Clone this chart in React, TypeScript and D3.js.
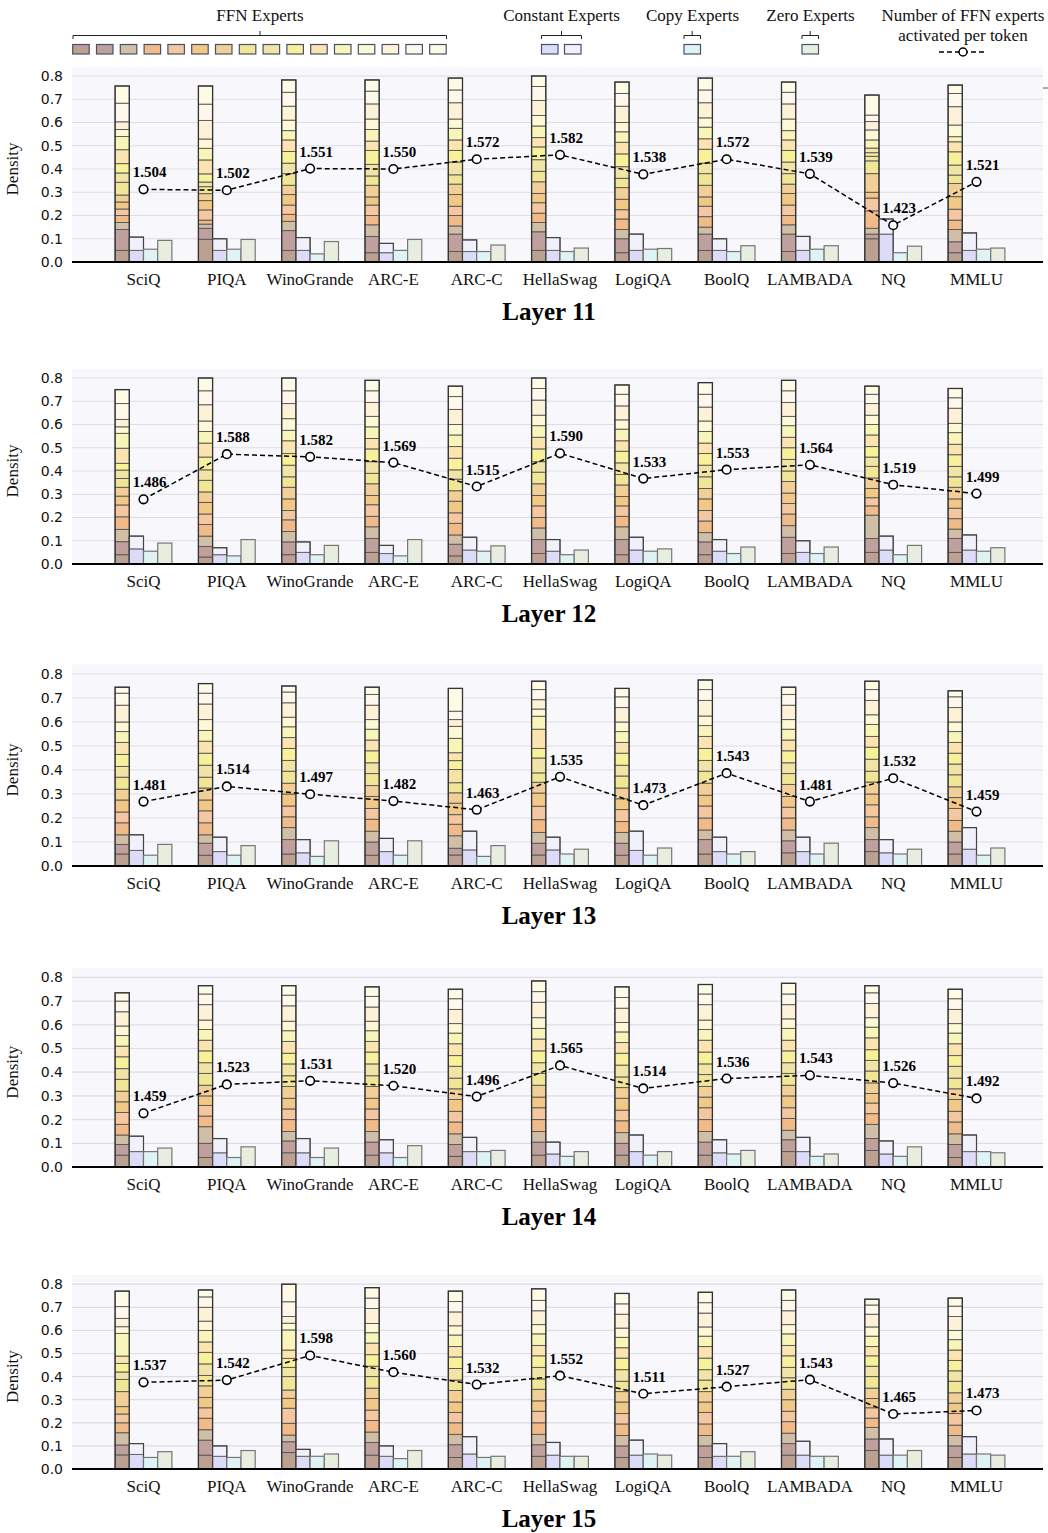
import * as d3 from "d3";

const datasets = ["SciQ", "PIQA", "WinoGrande", "ARC-E", "ARC-C", "HellaSwag", "LogiQA", "BoolQ", "LAMBADA", "NQ", "MMLU"];

// bottom -> top, same order as the legend swatches
const ffnColors = [
  "#bca193", "#c0a09d", "#d1bea6", "#f0bb88", "#f4c7a0", "#f2c886", "#f3cf98", "#f0e696",
  "#f2e4a6", "#f7f29a", "#fbe4b0", "#f9f5b8", "#fdf9d6", "#fdf1d8", "#fef8ec", "#fdfbe6",
];
const constColors = ["#dcdcf8", "#f1f1fc"];
const copyColor = "#dff3f5";
const zeroColor = "#e7eee0";

// ---- Layer 11 ----
const ffnL11 = [
  [0.05, 0.09, 0.03, 0.03, 0.028, 0.03, 0.03, 0.055, 0.04, 0.04, 0.06, 0.057, 0.03, 0.033, 0.08, 0.074],
  [0.098, 0.047, 0.018, 0.017, 0.044, 0.04, 0.03, 0.03, 0.02, 0.035, 0.06, 0.05, 0.04, 0.08, 0.07, 0.078],
  [0.05, 0.085, 0.04, 0.03, 0.04, 0.045, 0.04, 0.05, 0.045, 0.05, 0.05, 0.04, 0.045, 0.06, 0.06, 0.053],
  [0.04, 0.07, 0.05, 0.04, 0.045, 0.035, 0.05, 0.04, 0.05, 0.06, 0.04, 0.05, 0.045, 0.065, 0.055, 0.048],
  [0.045, 0.075, 0.035, 0.045, 0.04, 0.05, 0.045, 0.04, 0.055, 0.05, 0.045, 0.05, 0.04, 0.07, 0.055, 0.051],
  [0.05, 0.08, 0.04, 0.04, 0.045, 0.04, 0.05, 0.045, 0.05, 0.055, 0.04, 0.05, 0.045, 0.065, 0.06, 0.045],
  [0.04, 0.06, 0.04, 0.045, 0.04, 0.045, 0.05, 0.04, 0.05, 0.055, 0.05, 0.045, 0.04, 0.07, 0.055, 0.049],
  [0.05, 0.07, 0.03, 0.045, 0.045, 0.04, 0.05, 0.05, 0.045, 0.06, 0.045, 0.05, 0.04, 0.065, 0.055, 0.051],
  [0.045, 0.075, 0.04, 0.04, 0.045, 0.05, 0.04, 0.045, 0.05, 0.05, 0.045, 0.04, 0.05, 0.065, 0.05, 0.044],
  [0.1, 0.02, 0.025, 0.075, 0.055, 0.025, 0.08, 0.055, 0.02, 0.015, 0.02, 0.035, 0.043, 0.036, 0.028, 0.086],
  [0.04, 0.047, 0.053, 0.04, 0.047, 0.054, 0.057, 0.036, 0.043, 0.057, 0.043, 0.022, 0.05, 0.079, 0.057, 0.036],
];
const constLowL11 = [0.05, 0.05, 0.05, 0.04, 0.045, 0.05, 0.05, 0.05, 0.05, 0.12, 0.05];
const constHighL11 = [0.057, 0.05, 0.055, 0.04, 0.05, 0.055, 0.07, 0.05, 0.06, 0.065, 0.075];
const copyL11 = [0.055, 0.055, 0.035, 0.05, 0.045, 0.045, 0.055, 0.045, 0.055, 0.04, 0.055];
const zeroL11 = [0.093, 0.097, 0.088, 0.097, 0.073, 0.06, 0.058, 0.07, 0.07, 0.068, 0.06];
const countL11 = [1.504, 1.502, 1.551, 1.55, 1.572, 1.582, 1.538, 1.572, 1.539, 1.423, 1.521];

// ---- Layer 12 ----
const ffnL12 = [
  [0.04, 0.056, 0.053, 0.054, 0.051, 0.038, 0.038, 0.038, 0.036, 0.029, 0.065, 0.064, 0.028, 0.032, 0.068, 0.06],
  [0.03, 0.045, 0.045, 0.05, 0.045, 0.05, 0.045, 0.05, 0.045, 0.055, 0.06, 0.05, 0.045, 0.07, 0.06, 0.055],
  [0.04, 0.055, 0.045, 0.05, 0.04, 0.05, 0.05, 0.045, 0.05, 0.05, 0.055, 0.045, 0.05, 0.065, 0.055, 0.055],
  [0.05, 0.06, 0.05, 0.045, 0.05, 0.04, 0.05, 0.045, 0.05, 0.055, 0.045, 0.05, 0.045, 0.06, 0.05, 0.045],
  [0.035, 0.05, 0.04, 0.05, 0.045, 0.05, 0.045, 0.05, 0.04, 0.05, 0.05, 0.05, 0.045, 0.065, 0.055, 0.045],
  [0.045, 0.06, 0.05, 0.045, 0.05, 0.045, 0.05, 0.05, 0.045, 0.055, 0.05, 0.05, 0.045, 0.065, 0.05, 0.045],
  [0.04, 0.065, 0.055, 0.045, 0.045, 0.04, 0.05, 0.045, 0.05, 0.05, 0.045, 0.05, 0.04, 0.06, 0.05, 0.04],
  [0.04, 0.055, 0.04, 0.05, 0.045, 0.05, 0.045, 0.05, 0.05, 0.05, 0.045, 0.05, 0.045, 0.06, 0.055, 0.05],
  [0.045, 0.07, 0.05, 0.05, 0.045, 0.045, 0.05, 0.045, 0.05, 0.05, 0.045, 0.05, 0.04, 0.06, 0.05, 0.045],
  [0.05, 0.06, 0.1, 0.04, 0.035, 0.04, 0.045, 0.05, 0.04, 0.045, 0.05, 0.045, 0.04, 0.05, 0.04, 0.035],
  [0.05, 0.06, 0.04, 0.045, 0.045, 0.04, 0.05, 0.045, 0.045, 0.05, 0.045, 0.05, 0.04, 0.065, 0.045, 0.04],
];
const constLowL12 = [0.065, 0.04, 0.05, 0.045, 0.06, 0.055, 0.06, 0.055, 0.05, 0.06, 0.06];
const constHighL12 = [0.055, 0.03, 0.045, 0.035, 0.055, 0.05, 0.055, 0.05, 0.05, 0.06, 0.065];
const copyL12 = [0.055, 0.035, 0.04, 0.035, 0.055, 0.04, 0.055, 0.045, 0.045, 0.04, 0.055];
const zeroL12 = [0.09, 0.105, 0.08, 0.105, 0.078, 0.06, 0.065, 0.073, 0.073, 0.08, 0.07];
const countL12 = [1.486, 1.588, 1.582, 1.569, 1.515, 1.59, 1.533, 1.553, 1.564, 1.519, 1.499];

// ---- Layer 13 ----
const ffnL13 = [
  [0.05, 0.04, 0.04, 0.05, 0.045, 0.05, 0.045, 0.05, 0.045, 0.05, 0.05, 0.045, 0.04, 0.07, 0.05, 0.025],
  [0.045, 0.05, 0.035, 0.05, 0.05, 0.045, 0.05, 0.045, 0.05, 0.05, 0.05, 0.045, 0.045, 0.065, 0.045, 0.04],
  [0.05, 0.06, 0.05, 0.045, 0.045, 0.05, 0.045, 0.05, 0.045, 0.05, 0.045, 0.045, 0.04, 0.06, 0.045, 0.025],
  [0.045, 0.055, 0.045, 0.05, 0.045, 0.05, 0.045, 0.05, 0.045, 0.05, 0.045, 0.045, 0.04, 0.06, 0.045, 0.03],
  [0.046, 0.028, 0.052, 0.048, 0.04, 0.048, 0.043, 0.042, 0.055, 0.037, 0.033, 0.06, 0.05, 0.028, 0.035, 0.095],
  [0.046, 0.049, 0.045, 0.053, 0.056, 0.055, 0.045, 0.039, 0.062, 0.04, 0.08, 0.054, 0.03, 0.039, 0.042, 0.035],
  [0.045, 0.05, 0.045, 0.045, 0.05, 0.045, 0.045, 0.05, 0.045, 0.05, 0.045, 0.045, 0.04, 0.06, 0.045, 0.035],
  [0.05, 0.06, 0.04, 0.05, 0.05, 0.045, 0.05, 0.05, 0.045, 0.05, 0.05, 0.045, 0.04, 0.065, 0.045, 0.04],
  [0.055, 0.05, 0.045, 0.05, 0.045, 0.045, 0.05, 0.045, 0.045, 0.05, 0.045, 0.045, 0.04, 0.06, 0.045, 0.03],
  [0.06, 0.05, 0.05, 0.045, 0.05, 0.045, 0.05, 0.045, 0.05, 0.05, 0.045, 0.05, 0.04, 0.06, 0.045, 0.035],
  [0.05, 0.05, 0.045, 0.045, 0.05, 0.045, 0.045, 0.05, 0.045, 0.045, 0.045, 0.045, 0.04, 0.06, 0.045, 0.025],
];
const constLowL13 = [0.065, 0.06, 0.055, 0.06, 0.067, 0.067, 0.065, 0.06, 0.06, 0.055, 0.07];
const constHighL13 = [0.065, 0.06, 0.055, 0.055, 0.078, 0.053, 0.08, 0.06, 0.06, 0.055, 0.09];
const copyL13 = [0.045, 0.045, 0.04, 0.045, 0.04, 0.05, 0.045, 0.05, 0.05, 0.05, 0.045];
const zeroL13 = [0.09, 0.085, 0.105, 0.105, 0.085, 0.07, 0.075, 0.06, 0.095, 0.07, 0.075];
const countL13 = [1.481, 1.514, 1.497, 1.482, 1.463, 1.535, 1.473, 1.543, 1.481, 1.532, 1.459];

// ---- Layer 14 ----
const ffnL14 = [
  [0.05, 0.045, 0.04, 0.045, 0.05, 0.045, 0.045, 0.05, 0.045, 0.05, 0.045, 0.045, 0.04, 0.06, 0.045, 0.035],
  [0.04, 0.06, 0.07, 0.045, 0.045, 0.04, 0.045, 0.05, 0.045, 0.05, 0.045, 0.045, 0.04, 0.065, 0.045, 0.035],
  [0.06, 0.05, 0.04, 0.05, 0.045, 0.045, 0.05, 0.045, 0.05, 0.045, 0.05, 0.045, 0.04, 0.065, 0.045, 0.04],
  [0.05, 0.055, 0.045, 0.05, 0.045, 0.045, 0.05, 0.045, 0.05, 0.05, 0.045, 0.045, 0.04, 0.06, 0.045, 0.04],
  [0.045, 0.05, 0.045, 0.05, 0.045, 0.05, 0.045, 0.045, 0.05, 0.045, 0.05, 0.045, 0.04, 0.06, 0.045, 0.04],
  [0.05, 0.055, 0.045, 0.05, 0.05, 0.045, 0.05, 0.05, 0.045, 0.05, 0.05, 0.045, 0.045, 0.065, 0.045, 0.045],
  [0.05, 0.05, 0.045, 0.05, 0.045, 0.05, 0.045, 0.045, 0.05, 0.05, 0.045, 0.045, 0.04, 0.06, 0.045, 0.045],
  [0.05, 0.055, 0.045, 0.05, 0.05, 0.045, 0.045, 0.05, 0.045, 0.05, 0.05, 0.045, 0.04, 0.065, 0.045, 0.04],
  [0.065, 0.05, 0.04, 0.05, 0.045, 0.05, 0.045, 0.05, 0.045, 0.05, 0.045, 0.05, 0.04, 0.06, 0.045, 0.045],
  [0.07, 0.05, 0.06, 0.045, 0.045, 0.04, 0.045, 0.05, 0.045, 0.045, 0.05, 0.045, 0.04, 0.06, 0.045, 0.03],
  [0.04, 0.055, 0.045, 0.05, 0.045, 0.05, 0.045, 0.045, 0.05, 0.045, 0.05, 0.045, 0.04, 0.06, 0.045, 0.04],
];
const constLowL14 = [0.065, 0.06, 0.06, 0.06, 0.065, 0.055, 0.065, 0.06, 0.065, 0.055, 0.065];
const constHighL14 = [0.065, 0.06, 0.06, 0.055, 0.06, 0.05, 0.07, 0.055, 0.06, 0.055, 0.07];
const copyL14 = [0.065, 0.04, 0.04, 0.04, 0.065, 0.045, 0.05, 0.055, 0.045, 0.045, 0.065];
const zeroL14 = [0.08, 0.085, 0.08, 0.09, 0.07, 0.065, 0.065, 0.07, 0.055, 0.085, 0.06];
const countL14 = [1.459, 1.523, 1.531, 1.52, 1.496, 1.565, 1.514, 1.536, 1.543, 1.526, 1.492];

// ---- Layer 15 ----
const ffnL15 = [
  [0.061, 0.043, 0.053, 0.043, 0.038, 0.032, 0.065, 0.053, 0.032, 0.037, 0.032, 0.098, 0.029, 0.036, 0.051, 0.067],
  [0.06, 0.065, 0.045, 0.05, 0.045, 0.045, 0.05, 0.045, 0.05, 0.05, 0.045, 0.05, 0.04, 0.06, 0.045, 0.03],
  [0.071, 0.047, 0.029, 0.051, 0.065, 0.043, 0.036, 0.058, 0.04, 0.039, 0.036, 0.087, 0.029, 0.029, 0.064, 0.076],
  [0.06, 0.055, 0.045, 0.05, 0.045, 0.05, 0.045, 0.05, 0.045, 0.05, 0.05, 0.045, 0.04, 0.065, 0.045, 0.045],
  [0.05, 0.055, 0.045, 0.05, 0.045, 0.045, 0.05, 0.045, 0.05, 0.05, 0.045, 0.05, 0.04, 0.06, 0.045, 0.045],
  [0.055, 0.05, 0.045, 0.05, 0.05, 0.045, 0.05, 0.045, 0.05, 0.05, 0.045, 0.05, 0.04, 0.06, 0.045, 0.05],
  [0.05, 0.05, 0.045, 0.05, 0.045, 0.05, 0.045, 0.045, 0.05, 0.05, 0.045, 0.045, 0.04, 0.06, 0.045, 0.045],
  [0.05, 0.05, 0.045, 0.05, 0.05, 0.045, 0.045, 0.05, 0.045, 0.05, 0.05, 0.045, 0.04, 0.06, 0.045, 0.045],
  [0.06, 0.05, 0.045, 0.05, 0.045, 0.05, 0.045, 0.05, 0.045, 0.05, 0.045, 0.05, 0.04, 0.06, 0.045, 0.045],
  [0.08, 0.05, 0.05, 0.04, 0.045, 0.04, 0.045, 0.05, 0.045, 0.045, 0.04, 0.045, 0.04, 0.055, 0.04, 0.025],
  [0.05, 0.05, 0.045, 0.045, 0.05, 0.045, 0.045, 0.05, 0.045, 0.045, 0.045, 0.045, 0.04, 0.06, 0.045, 0.035],
];
const constLowL15 = [0.063, 0.055, 0.055, 0.055, 0.065, 0.06, 0.06, 0.055, 0.06, 0.06, 0.065];
const constHighL15 = [0.047, 0.045, 0.03, 0.045, 0.075, 0.055, 0.065, 0.055, 0.06, 0.07, 0.075];
const copyL15 = [0.05, 0.05, 0.055, 0.045, 0.05, 0.055, 0.065, 0.055, 0.055, 0.06, 0.065];
const zeroL15 = [0.075, 0.08, 0.065, 0.08, 0.055, 0.055, 0.06, 0.075, 0.055, 0.08, 0.06];
const countL15 = [1.537, 1.542, 1.598, 1.56, 1.532, 1.552, 1.511, 1.527, 1.543, 1.465, 1.473];

const layers = [
  { name: "Layer 11", ffn: ffnL11, constLow: constLowL11, constHigh: constHighL11, copy: copyL11, zero: zeroL11, count: countL11 },
  { name: "Layer 12", ffn: ffnL12, constLow: constLowL12, constHigh: constHighL12, copy: copyL12, zero: zeroL12, count: countL12 },
  { name: "Layer 13", ffn: ffnL13, constLow: constLowL13, constHigh: constHighL13, copy: copyL13, zero: zeroL13, count: countL13 },
  { name: "Layer 14", ffn: ffnL14, constLow: constLowL14, constHigh: constHighL14, copy: copyL14, zero: zeroL14, count: countL14 },
  { name: "Layer 15", ffn: ffnL15, constLow: constLowL15, constHigh: constHighL15, copy: copyL15, zero: zeroL15, count: countL15 },
];

// where each panel's x-axis sits, and pixels per density unit
const panelBase = [262, 564, 866, 1167, 1469];
const panelUnit = [232.5, 232.5, 240, 237, 231];

const serif = "'Liberation Serif', 'Times New Roman', Times, serif";
const sans = "'DejaVu Sans', Verdana, sans-serif";

const left = 72;
const right = 1043;
const bw = 14.2;

const x = d3.scalePoint<string>().domain(datasets).range([143.5, 976.5]);
// secondary scale: activated FFN experts -> density axis
const countScale = d3.scaleLinear().domain([1.34, 1.76]).range([0, 0.8]);

function Panel({ layer, base, unit, idx }: any) {
  const yMax = 0.84;
  const y = d3.scaleLinear().domain([0, yMax]).range([base, base - yMax * unit]);
  const ticks = y.ticks(8);
  const line = d3
    .line<number>()
    .x((_, i) => x(datasets[i])!)
    .y((d) => y(countScale(d)));

  const rectFor = (x0: number, lo: number, hi: number) => ({
    x: x0,
    y: y(hi),
    width: bw,
    height: y(lo) - y(hi),
  });

  return (
    <g>
      <rect x={left} y={y(yMax)} width={right - left} height={base - y(yMax)} fill="#f8f8fc" />
      {ticks.map((t) => (
        <g key={t}>
          {t > 0 && <line x1={left} x2={right} y1={y(t)} y2={y(t)} stroke="#dedee2" strokeWidth={1.2} />}
          <text x={63} y={y(t)} dy="0.35em" textAnchor="end" fontFamily={sans} fontSize={14} fill="#111">
            {d3.format(".1f")(t)}
          </text>
        </g>
      ))}
      {idx === 0 && <line x1={1043} x2={1048} y1={88} y2={88} stroke="#555" strokeWidth={1} />}

      {datasets.map((ds, i) => {
        const c = x(ds)!;
        const row: number[] = layer.ffn[i];
        const cum = Array.from(d3.cumsum(row));
        const total = cum[cum.length - 1];
        const cLo = layer.constLow[i];
        const cHi = cLo + layer.constHigh[i];
        return (
          <g key={ds}>
            {row.map((v, j) => (
              <rect key={j} {...rectFor(c - 2 * bw, cum[j] - v, cum[j])} fill={ffnColors[j]} stroke="#555" strokeWidth={0.9} />
            ))}
            <rect {...rectFor(c - 2 * bw, 0, total)} fill="none" stroke="#333" strokeWidth={1.3} />
            <rect {...rectFor(c - bw, 0, cLo)} fill={constColors[0]} stroke="#666" strokeWidth={1} />
            <rect {...rectFor(c - bw, cLo, cHi)} fill={constColors[1]} stroke="#666" strokeWidth={1} />
            <rect {...rectFor(c - bw, 0, cHi)} fill="none" stroke="#444" strokeWidth={1.2} />
            <rect {...rectFor(c, 0, layer.copy[i])} fill={copyColor} stroke="#777" strokeWidth={1.2} />
            <rect {...rectFor(c + bw, 0, layer.zero[i])} fill={zeroColor} stroke="#777" strokeWidth={1.2} />
            <text x={c} y={base + 23} textAnchor="middle" fontFamily={serif} fontSize={17} fill="#111">
              {ds}
            </text>
          </g>
        );
      })}

      <line x1={left} x2={right} y1={base} y2={base} stroke="#000" strokeWidth={2} />

      <path d={line(layer.count)!} fill="none" stroke="#000" strokeWidth={1.5} strokeDasharray="5,3" />
      {layer.count.map((v: number, i: number) => {
        const c = x(datasets[i])!;
        const cy = y(countScale(v));
        return (
          <g key={i}>
            <circle cx={c} cy={cy} r={4.3} fill="#fff" stroke="#000" strokeWidth={1.6} />
            <text x={c + 6} y={cy - 12} textAnchor="middle" fontFamily={serif} fontWeight="bold" fontSize={15} fill="#000">
              {v.toFixed(3)}
            </text>
          </g>
        );
      })}

      <text
        transform={`translate(${18},${base - 0.4 * unit}) rotate(-90)`}
        textAnchor="middle"
        fontFamily={serif}
        fontSize={17}
        fill="#111"
      >
        Density
      </text>
      <text x={549} y={base + 58} textAnchor="middle" fontFamily={serif} fontWeight="bold" fontSize={25} fill="#000">
        {layer.name}
      </text>
    </g>
  );
}

function Bracket({ x0, x1, xm }: { x0: number; x1: number; xm: number }) {
  const yb = 35.5;
  return (
    <path
      d={`M${x0},${yb + 3.5}V${yb}H${x1}V${yb + 3.5}M${xm},${yb}V${yb - 4.5}`}
      fill="none"
      stroke="#222"
      strokeWidth={1}
    />
  );
}

function Legend() {
  const sw = 16.5;
  const sh = 9.5;
  const sy = 44.5;
  const ffnX = d3.range(ffnColors.length).map((i) => 72.7 + i * 23.8);
  const swatch = (xx: number, fill: string, key: any) => (
    <rect key={key} x={xx} y={sy} width={sw} height={sh} fill={fill} stroke="#48506a" strokeWidth={1.2} />
  );
  return (
    <g fontFamily={serif} fontSize={17} fill="#111">
      <text x={260} y={21} textAnchor="middle">FFN Experts</text>
      <Bracket x0={73} x1={446.5} xm={260} />
      {ffnColors.map((c, i) => swatch(ffnX[i], c, i))}

      <text x={561.5} y={21} textAnchor="middle">Constant Experts</text>
      <Bracket x0={541.5} x1={581.5} xm={561.5} />
      {swatch(541.5, constColors[0], "c0")}
      {swatch(564.5, constColors[1], "c1")}

      <text x={692.5} y={21} textAnchor="middle">Copy Experts</text>
      <Bracket x0={684} x1={700.5} xm={692.2} />
      {swatch(684, copyColor, "cp")}

      <text x={810.5} y={21} textAnchor="middle">Zero Experts</text>
      <Bracket x0={802} x1={818.5} xm={810.2} />
      {swatch(802, zeroColor, "z")}

      <text x={963} y={21} textAnchor="middle">Number of FFN experts</text>
      <text x={963} y={41} textAnchor="middle">activated per token</text>
      <line x1={939} x2={987} y1={52} y2={52} stroke="#000" strokeWidth={1.5} strokeDasharray="5,3" />
      <circle cx={963} cy={52} r={4} fill="#fff" stroke="#000" strokeWidth={1.5} />
    </g>
  );
}

export default function App() {
  return (
    <svg
      width={1048}
      height={1533}
      style={{ position: "absolute", left: 0, top: 0, background: "#fff" }}
    >
      <Legend />
      {layers.map((layer, i) => (
        <Panel key={layer.name} layer={layer} base={panelBase[i]} unit={panelUnit[i]} idx={i} />
      ))}
    </svg>
  );
}
